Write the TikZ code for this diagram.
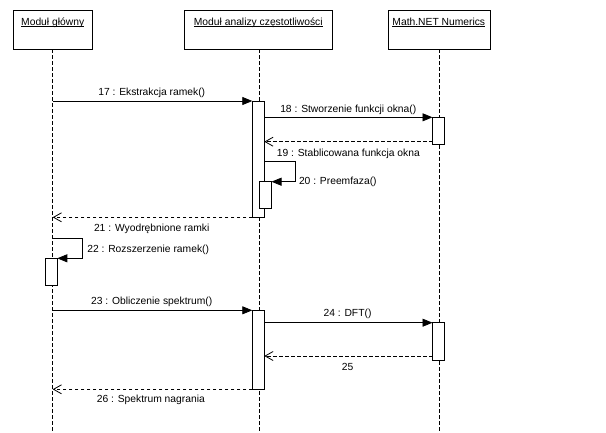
\documentclass[tikz,border=0pt]{standalone}
\usepackage{fontspec}
\setmainfont{Liberation Sans}
\usetikzlibrary{arrows.meta}
\begin{document}
\begin{tikzpicture}[x=1pt,y=-1pt,
  font=\fontsize{10.3}{12}\selectfont,
  every node/.style={inner sep=0pt, outer sep=0pt},
  objbox/.style={draw, line width=0.8pt, minimum height=39pt, anchor=north},
  hdr/.style={anchor=base},
  lifeline/.style={line width=0.8pt, dash pattern=on 3.5pt off 2.5pt},
  actbar/.style={draw, fill=white, line width=0.8pt, minimum width=12pt, anchor=north},
  call/.style={line width=0.8pt, -{Triangle[length=10pt,width=8pt]}},
  ret/.style={line width=0.8pt, dash pattern=on 3.5pt off 2.5pt, -{Straight Barb[length=8pt,width=9pt,line width=0.8pt]}},
  lbl/.style={anchor=base},
  lblw/.style={anchor=base west}]
\useasboundingbox (0,0) rectangle (606,432);
\fill[white] (0,0) rectangle (606,432);

% objects
\node[objbox, minimum width=79pt]    (b1) at (52.7,10) {};
\node[objbox, minimum width=148pt]   (b2) at (258.5,10) {};
\node[objbox, minimum width=101.7pt] (b3) at (439.2,10) {};
\node[hdr] (h1) at (52.7,25.5) {Moduł główny};
\node[hdr] (h2) at (258.3,25.5) {Moduł analizy częstotliwości};
\node[hdr] (h3) at (438.8,25.5) {Math.NET Numerics};
\foreach \h in {h1,h2,h3}
  \draw[line width=0.7pt] ([yshift=-1.3pt]\h.base west) -- ([yshift=-1.3pt]\h.base east);

% lifelines
\coordinate (e1) at (52.7,432);
\coordinate (e2) at (259.3,432);
\coordinate (e3) at (439.3,432);
\draw[lifeline] (b1.south -| e1) -- (e1);
\draw[lifeline] (b2.south -| e2) -- (e2);
\draw[lifeline] (b3.south -| e3) -- (e3);

% activation bars
\node[actbar, minimum height=116.3pt] (a1)  at (258.3,101) {};
\node[actbar, minimum height=26.7pt]  (a3)  at (438.5,117.3) {};
\node[actbar, minimum height=26.6pt]  (a2n) at (265.5,181.7) {};
\node[actbar, minimum height=26.7pt]  (c1)  at (51.3,258.3) {};
\node[actbar, minimum height=79pt]    (a2b) at (258.3,310.3) {};
\node[actbar, minimum height=37.6pt]  (a3b) at (438.5,322.7) {};

% 17
\coordinate (s17) at (52.7,101);
\draw[call] (s17) -- (a1.north west);
\node[lbl] (l17) at (151.7,95.5) {17 : Ekstrakcja ramek()};
% 18
\draw[call] (a1.east |- a3.north) -- (a3.north west);
\node[lbl] (l18) at (348.3,112.7) {18 : Stworzenie funkcji okna()};
% 19
\coordinate (r19) at (432.5,141.7);
\draw[ret] (r19) -- (a1.east |- r19);
\node[lbl] (l19) at (348.3,156) {19 : Stablicowana funkcja okna};
% 20
\coordinate (s20) at (264.3,161.7);
\coordinate (k20) at (295,161.7);
\draw[call] (s20) -- (k20) -- (k20 |- a2n.north) -- (a2n.north east);
\node[lblw] (l20) at (299,184.3) {20 : Preemfaza()};
% 21
\draw[ret] (a1.south west) -- (a1.south west -| s17);
\node[lbl] (l21) at (151.7,231.7) {21 : Wyodrębnione ramki};
% 22
\coordinate (s22) at (52.7,238.3);
\coordinate (k22) at (82.3,238.3);
\draw[call] (s22) -- (k22) -- (k22 |- c1.north) -- (c1.north east);
\node[lblw] (l22) at (87.3,252.7) {22 : Rozszerzenie ramek()};
% 23
\coordinate (s23) at (52.7,310.3);
\draw[call] (s23) -- (a2b.north west);
\node[lbl] (l23) at (151.7,304.3) {23 : Obliczenie spektrum()};
% 24
\draw[call] (a2b.east |- a3b.north) -- (a3b.north west);
\node[lbl] (l24) at (347.5,316.7) {24 : DFT()};
% 25
\coordinate (r25) at (432.5,356);
\draw[ret] (r25) -- (a2b.east |- r25);
\node[lbl] (l25) at (347.5,370.3) {25};
% 26
\draw[ret] (a2b.south west) -- (a2b.south west -| s17);
\node[lbl] (l26) at (150.8,402.7) {26 : Spektrum nagrania};
\end{tikzpicture}
\end{document}
